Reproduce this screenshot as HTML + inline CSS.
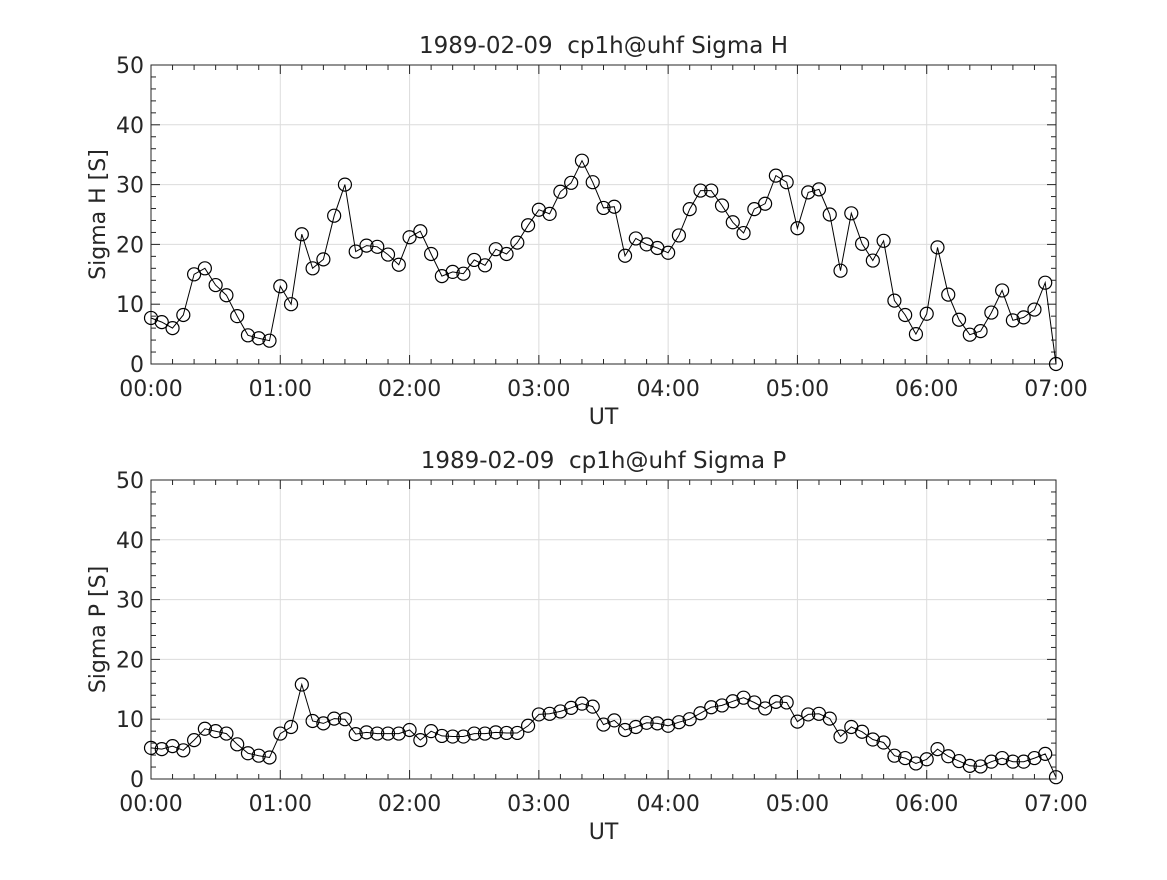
<!DOCTYPE html>
<html><head><meta charset="utf-8"><style>
body{margin:0;background:#fff}
svg text{font-family:"DejaVu Sans","Liberation Sans",sans-serif;fill:#262626;white-space:pre}
</style></head><body>
<svg id="fig" width="1167" height="875" xmlns="http://www.w3.org/2000/svg"></svg>
<script>
const hourLabels=["00:00","01:00","02:00","03:00","04:00","05:00","06:00","07:00"];
const yTicks=[0,10,20,30,40,50];
const sigmaH=[7.7,7,6,8.2,15,16,13.2,11.5,8,4.8,4.3,3.9,13,10,21.7,16,17.5,24.8,30,18.8,19.8,19.6,18.3,16.6,21.2,22.2,18.4,14.7,15.4,15.1,17.4,16.5,19.2,18.4,20.3,23.2,25.8,25.1,28.8,30.3,34,30.4,26.1,26.3,18.1,21,20,19.4,18.6,21.5,25.9,29,29,26.5,23.7,21.9,25.9,26.8,31.5,30.4,22.7,28.7,29.2,25,15.6,25.2,20.1,17.3,20.6,10.6,8.2,5,8.4,19.5,11.6,7.4,4.9,5.5,8.6,12.3,7.3,7.8,9.1,13.6,0];
const sigmaP=[5.2,5,5.5,4.8,6.5,8.4,8,7.6,5.8,4.3,3.9,3.6,7.6,8.7,15.8,9.7,9.3,10.1,10,7.5,7.8,7.6,7.6,7.6,8.2,6.5,8,7.2,7.1,7.1,7.6,7.6,7.8,7.7,7.7,8.9,10.8,10.9,11.3,11.9,12.6,12.1,9.1,9.8,8.2,8.7,9.4,9.3,8.9,9.5,10,11,12,12.3,13,13.6,12.8,11.8,12.9,12.8,9.6,10.8,10.9,10.1,7.1,8.7,7.9,6.6,6.1,3.9,3.5,2.6,3.3,5,3.8,3,2.2,2.1,2.9,3.5,2.9,2.9,3.5,4.2,0.3];
const stepMin=5;
const NS="http://www.w3.org/2000/svg";
const svg=document.getElementById('fig');
function mk(tag,attrs,parent){const e=document.createElementNS(NS,tag);for(const k in attrs)e.setAttribute(k,attrs[k]);(parent||svg).appendChild(e);return e;}
function panel(top,data,title,ylabel,key){
  const L=151,R=1056,T=top,B=top+299;
  const g=mk('g',{});
  
  
  const xs=m=>L+(R-L)*m/420, ys=v=>B-(B-T)*v/50;
  for(let h=0;h<=7;h++){const l=mk('line',{x1:xs(h*60),x2:xs(h*60),y1:T,y2:B,stroke:'#dcdcdc','stroke-width':1},g);}
  yTicks.forEach(v=>{const l=mk('line',{x1:L,x2:R,y1:ys(v),y2:ys(v),stroke:'#dcdcdc','stroke-width':1},g);});
  for(let m=0;m<=420;m+=10){const len=(m%60==0)?9:5;mk('line',{x1:xs(m),x2:xs(m),y1:B,y2:B-len,stroke:'#262626'},g);mk('line',{x1:xs(m),x2:xs(m),y1:T,y2:T+len,stroke:'#262626'},g);}
  for(let v=0;v<=50;v+=2){const len=(v%10==0)?9:5;mk('line',{x1:L,x2:L+len,y1:ys(v),y2:ys(v),stroke:'#262626'},g);mk('line',{x1:R,x2:R-len,y1:ys(v),y2:ys(v),stroke:'#262626'},g);}
  const fr=mk('rect',{x:L,y:T,width:R-L,height:B-T,fill:'none',stroke:'#262626','stroke-width':1},g);
  
  hourLabels.forEach((t,i)=>{const e=mk('text',{x:xs(i*60),y:B+32,'text-anchor':'middle','font-size':22},g);e.textContent=t;});
  yTicks.forEach(v=>{const e=mk('text',{x:L-7,y:ys(v)+8,'text-anchor':'end','font-size':22},g);e.textContent=v;});
  const xt=mk('text',{x:(L+R)/2,y:B+60,'text-anchor':'middle','font-size':22},g);xt.textContent='UT';
  const yt=mk('text',{x:0,y:0,'text-anchor':'middle','font-size':22,transform:`translate(105,${(T+B)/2}) rotate(-90)`},g);yt.textContent=ylabel;
  const tt=mk('text',{x:(L+R)/2,y:T-12,'text-anchor':'middle','font-size':23},g);tt.textContent=title;
  const pts=data.map((v,i)=>xs(i*stepMin).toFixed(1)+','+ys(v).toFixed(1)).join(' ');
  const pl=mk('polyline',{points:pts,fill:'none',stroke:'#000','stroke-width':1},g);
  
  data.forEach((v,i)=>{const c=mk('circle',{cx:xs(i*stepMin),cy:ys(v),r:6.5,fill:'none',stroke:'#000','stroke-width':1.2},g);});
}
panel(65,sigmaH,'1989-02-09  cp1h@uhf Sigma H','Sigma H [S]','sigma-h');
panel(480,sigmaP,'1989-02-09  cp1h@uhf Sigma P','Sigma P [S]','sigma-p');
</script>
</body></html>
